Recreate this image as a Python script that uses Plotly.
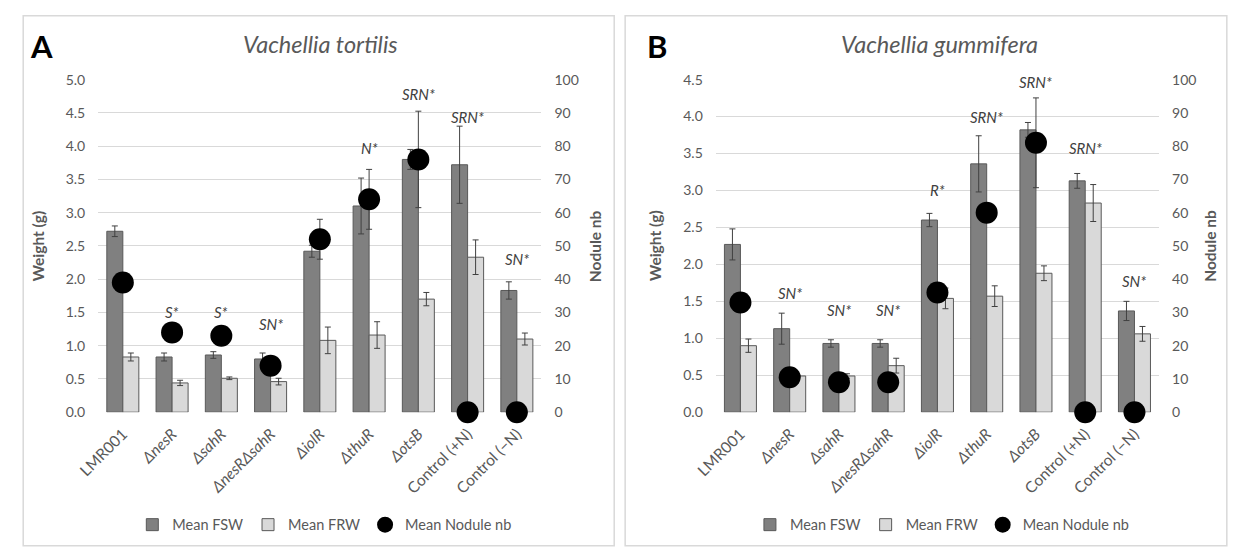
import plotly.graph_objects as go

W, H = 1235, 547
# empirical correction between requested and photographed pixel positions
SX, OX = 0.986, 18.5
SY, OY = 0.973, 7.1

categories = ["LMR001", "ΔnesR", "ΔsahR", "ΔnesRΔsahR", "ΔiolR", "ΔthuR", "ΔotsB", "Control (+N)", "Control (−N)"]
tick_labels = ["LMR001", "<i>ΔnesR</i>", "<i>ΔsahR</i>", "<i>ΔnesRΔsahR</i>", "<i>ΔiolR</i>",
               "<i>ΔthuR</i>", "<i>ΔotsB</i>", "Control (+N)", "Control (−N)"]

# Panel A - Vachellia tortilis
fsw_A = [2.72, 0.83, 0.86, 0.80, 2.42, 3.10, 3.80, 3.72, 1.83]
fsw_A_err = [0.08, 0.06, 0.05, 0.09, 0.09, 0.42, 0.15, 0.58, 0.13]
frw_A = [0.83, 0.44, 0.51, 0.46, 1.08, 1.16, 1.70, 2.33, 1.10]
frw_A_err = [0.06, 0.04, 0.02, 0.05, 0.20, 0.20, 0.10, 0.26, 0.09]
nod_A = [39, 24, 23, 14, 52, 64, 76, 0, 0]
nod_A_err = [0, 0, 0, 0, 6, 9, 14.5, 0, 0]
sig_A = ["", "S*", "S*", "SN*", "", "N*", "SRN*", "SRN*", "SN*"]
sig_A_y = [0, 1.51, 1.51, 1.32, 0, 3.97, 4.78, 4.44, 2.31]

# Panel B - Vachellia gummifera
fsw_B = [2.27, 1.13, 0.93, 0.93, 2.60, 3.36, 3.82, 3.13, 1.37]
fsw_B_err = [0.21, 0.21, 0.05, 0.05, 0.09, 0.38, 0.10, 0.10, 0.13]
frw_B = [0.90, 0.49, 0.49, 0.63, 1.54, 1.57, 1.88, 2.83, 1.06]
frw_B_err = [0.09, 0.01, 0.03, 0.10, 0.14, 0.14, 0.10, 0.25, 0.10]
nod_B = [33, 10.5, 9, 9, 36, 60, 81, 0, 0]
nod_B_err = [0, 0, 0, 0, 0, 0, 13.5, 0, 0]
sig_B = ["", "SN*", "SN*", "SN*", "R*", "SRN*", "SRN*", "SRN*", "SN*"]
sig_B_y = [0, 1.61, 1.38, 1.38, 3.0, 4.0, 4.47, 3.57, 1.78]

DARK = "#808080"
LIGHT = "#d9d9d9"
EDGE = "#595959"
ERR = "#404040"
TXT = "#595959"
GRID = "#d9d9d9"
FONT = "Lato"


def px_x(p):
    return ((p - OX) / SX) / W


def px_y(p):
    return 1 - ((p - OY) / SY) / H


fig = go.Figure()


def add_panel(fsw, fsw_err, frw, frw_err, nod, nod_err, xa, ya, ya2, legend):
    fig.add_trace(go.Bar(
        x=categories, y=fsw, name="Mean FSW", xaxis=xa, yaxis=ya, legend=legend,
        marker=dict(color=DARK, line=dict(color=EDGE, width=1)),
        error_y=dict(type="data", array=fsw_err, color=ERR, thickness=1, width=3),
    ))
    fig.add_trace(go.Bar(
        x=categories, y=frw, name="Mean FRW", xaxis=xa, yaxis=ya, legend=legend,
        marker=dict(color=LIGHT, line=dict(color=EDGE, width=1)),
        error_y=dict(type="data", array=frw_err, color=ERR, thickness=1, width=3),
    ))
    fig.add_trace(go.Scatter(
        x=categories, y=nod, name="Mean Nodule nb", xaxis=xa, yaxis=ya2, legend=legend,
        mode="markers", cliponaxis=False,
        marker=dict(color="black", size=22, symbol="circle"),
        error_y=dict(type="data", array=nod_err, color=ERR, thickness=1, width=3),
    ))


add_panel(fsw_A, fsw_A_err, frw_A, frw_A_err, nod_A, nod_A_err, "x", "y", "y2", "legend")
add_panel(fsw_B, fsw_B_err, frw_B, frw_B_err, nod_B, nod_B_err, "x2", "y3", "y4", "legend2")

ydom = [px_y(412), px_y(78)]
domA = [px_x(95), px_x(540)]
domB = [px_x(715), px_x(1160)]

tickfont = dict(family=FONT, size=14, color=TXT)
xcommon = dict(type="category", range=[-0.5, len(categories) - 0.5], autorange=False,
               tickmode="array", tickvals=categories, ticktext=tick_labels,
               tickangle=-45, tickfont=dict(family=FONT, size=15.5, color=TXT), ticklabelstandoff=9,
               showgrid=False, showline=False, ticks="", zeroline=False, fixedrange=True)
ycommon = dict(showline=False, ticks="", zeroline=False, tickfont=tickfont, ticklabelstandoff=12)

legend_common = dict(orientation="h", xanchor="center", y=px_y(525), yanchor="middle",
                     font=dict(family=FONT, size=14.5, color=TXT), itemwidth=30,
                     bgcolor="rgba(0,0,0,0)")

fig.update_layout(
    width=W, height=H, autosize=False,
    margin=dict(l=0, r=0, t=0, b=0),
    paper_bgcolor="white", plot_bgcolor="white",
    font=dict(family=FONT, color=TXT),
    barmode="group", bargap=0.35, bargroupgap=0.0,
    xaxis=dict(domain=domA, anchor="y", **xcommon),
    yaxis=dict(domain=ydom, anchor="x", range=[0, 5], dtick=0.5, tickformat=".1f",
               showgrid=True, gridcolor=GRID, gridwidth=1, **ycommon),
    yaxis2=dict(overlaying="y", anchor="x", side="right", range=[0, 100], dtick=10,
                showgrid=False, **ycommon),
    xaxis2=dict(domain=domB, anchor="y3", **xcommon),
    yaxis3=dict(domain=ydom, anchor="x2", range=[0, 4.5], dtick=0.5, tickformat=".1f",
                showgrid=True, gridcolor=GRID, gridwidth=1, **ycommon),
    yaxis4=dict(overlaying="y3", anchor="x2", side="right", range=[0, 100], dtick=10,
                showgrid=False, **ycommon),
    legend=dict(x=px_x(322), **legend_common),
    legend2=dict(x=px_x(942), **legend_common),
    showlegend=True,
)

annotations = []
for cat, s, yv in zip(categories, sig_A, sig_A_y):
    if s:
        annotations.append(dict(x=cat, y=yv, xref="x", yref="y", text=f"<i>{s}</i>", showarrow=False,
                                xanchor="center", yanchor="middle",
                                font=dict(family=FONT, size=15, color=ERR)))
for cat, s, yv in zip(categories, sig_B, sig_B_y):
    if s:
        annotations.append(dict(x=cat, y=yv, xref="x2", yref="y3", text=f"<i>{s}</i>", showarrow=False,
                                xanchor="center", yanchor="middle",
                                font=dict(family=FONT, size=15, color=ERR)))


def paper_note(x, y, text, size, color, angle=0):
    return dict(x=px_x(x), y=px_y(y), xref="paper", yref="paper", text=text, textangle=angle,
                xanchor="center", yanchor="middle", showarrow=False,
                font=dict(family=FONT, size=size, color=color))


annotations += [
    paper_note(318, 42, "<i>Vachellia tortilis</i>", 23.5, TXT),
    paper_note(940, 42, "<i>Vachellia gummifera</i>", 23.5, TXT),
    paper_note(38, 44, "<b>A</b>", 31, "black"),
    paper_note(656, 44, "<b>B</b>", 31, "black"),
    paper_note(34, 245, "<b>Weight (g)</b>", 15.5, TXT, -90),
    paper_note(594, 245, "<b>Nodule nb</b>", 15.5, TXT, -90),
    paper_note(654, 245, "<b>Weight (g)</b>", 15.5, TXT, -90),
    paper_note(1211, 245, "<b>Nodule nb</b>", 15.5, TXT, -90),
]
fig.update_layout(annotations=annotations)

# panel frames
fig.update_layout(shapes=[
    dict(type="rect", xref="paper", yref="paper", x0=max(px_x(10), 0.001), x1=px_x(613),
         y0=px_y(546), y1=px_y(14),
         line=dict(color=GRID, width=1.5), fillcolor="rgba(0,0,0,0)", layer="below"),
    dict(type="rect", xref="paper", yref="paper", x0=px_x(624), x1=px_x(1228),
         y0=px_y(546), y1=px_y(14),
         line=dict(color=GRID, width=1.5), fillcolor="rgba(0,0,0,0)", layer="below"),
])

fig.write_html("out.html", config={"displayModeBar": False},
               post_script="document.body.style.margin='0';document.documentElement.style.overflow='hidden';")
